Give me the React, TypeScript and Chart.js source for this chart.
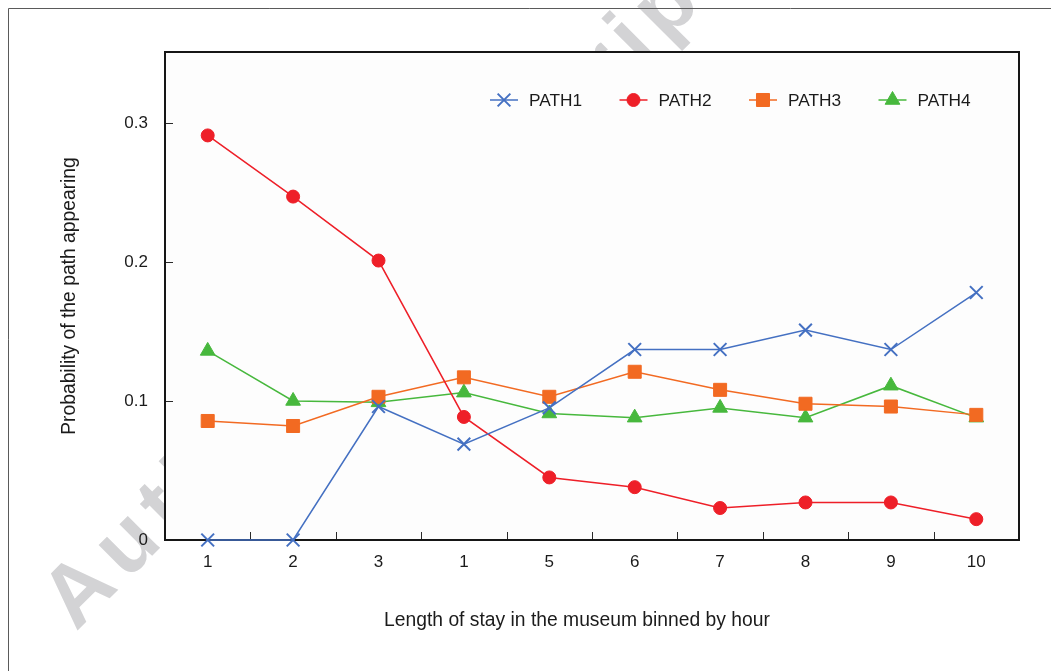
import React, { useEffect, useRef } from 'react';
import { Chart, registerables } from 'chart.js';
import { drawPoint } from 'chart.js/helpers';

Chart.register(...registerables);

const categories = ['1', '2', '3', '1', '5', '6', '7', '8', '9', '10'];
const path1 = [0, 0, 0.096, 0.069, 0.095, 0.137, 0.137, 0.151, 0.137, 0.178];
const path2 = [0.291, 0.247, 0.201, 0.0885, 0.045, 0.038, 0.023, 0.027, 0.027, 0.015];
const path3 = [0.0856, 0.082, 0.103, 0.117, 0.103, 0.121, 0.108, 0.098, 0.096, 0.09];
const path4 = [0.136, 0.1, 0.099, 0.106, 0.091, 0.088, 0.095, 0.088, 0.111, 0.088];
const yTicks = [0, 0.1, 0.2, 0.3];
const seriesNames = ['PATH1', 'PATH2', 'PATH3', 'PATH4'];
const seriesColors = ['#4470C2', '#EE1F28', '#F26A22', '#47B83D'];
const seriesStyles = ['crossRot', 'circle', 'rect', 'triangle'];
const seriesRadii = [9, 6.5, 9.2, 8.5];
const xTitle = 'Length of stay in the museum binned by hour';
const yTitle = 'Probability of the path appearing';
const watermark = 'Author Manuscript';

const FONT = "'Liberation Sans', Arial, Helvetica, sans-serif";
const TEXT = '#1b1b1b';

const decorPlugin = {
  id: 'decor',
  beforeDraw(chart: any) {
    const { ctx, chartArea: a } = chart;
    ctx.save();
    ctx.fillStyle = '#ffffff';
    ctx.fillRect(0, 0, chart.width, chart.height);
    // watermark
    ctx.save();
    ctx.translate(76, 632);
    ctx.rotate((-45 * Math.PI) / 180);
    ctx.font = `bold 86px ${FONT}`;
    try {
      (ctx as any).letterSpacing = '10px';
    } catch (e) {}
    ctx.fillStyle = '#d3d3d5';
    ctx.textBaseline = 'alphabetic';
    ctx.fillText(watermark, 0, 0);
    try {
      (ctx as any).letterSpacing = '0px';
    } catch (e) {}
    ctx.restore();
    // outer frame (top and left)
    ctx.strokeStyle = '#5a5a5a';
    ctx.lineWidth = 1;
    ctx.beginPath();
    ctx.moveTo(8.5, chart.height);
    ctx.lineTo(8.5, 8.5);
    ctx.lineTo(chart.width, 8.5);
    ctx.stroke();
    // plot background
    ctx.fillStyle = '#fdfdfd';
    ctx.fillRect(a.left, a.top, a.right - a.left, a.bottom - a.top);
    ctx.restore();
  },
  beforeDatasetsDraw(chart: any) {
    const { ctx, chartArea: a, scales } = chart;
    const xs = scales.x;
    const ys = scales.y;
    ctx.save();
    ctx.strokeStyle = '#2a2a2a';
    ctx.lineWidth = 1;
    ctx.beginPath();
    for (let i = 0; i < categories.length - 1; i++) {
      const px = Math.round((xs.getPixelForValue(i) + xs.getPixelForValue(i + 1)) / 2) + 0.5;
      ctx.moveTo(px, a.bottom);
      ctx.lineTo(px, a.bottom - 8);
    }
    yTicks.forEach((v) => {
      if (v === 0) return;
      const py = Math.round(ys.getPixelForValue(v)) + 0.5;
      ctx.moveTo(a.left, py);
      ctx.lineTo(a.left + 8, py);
    });
    ctx.stroke();
    ctx.strokeStyle = '#161616';
    ctx.lineWidth = 2;
    ctx.strokeRect(a.left, a.top, a.right - a.left, a.bottom - a.top);
    ctx.restore();
  },
  afterDatasetsDraw(chart: any) {
    const { ctx } = chart;
    ctx.save();
    // legend
    const ly = 100;
    seriesNames.forEach((name, i) => {
      const lx = 490 + i * 129.5;
      const c = seriesColors[i];
      ctx.strokeStyle = c;
      ctx.fillStyle = c;
      ctx.lineWidth = 1.5;
      ctx.beginPath();
      ctx.moveTo(lx, ly);
      ctx.lineTo(lx + 28, ly);
      ctx.stroke();
      ctx.lineWidth = i === 0 ? 2 : 1;
      drawPoint(ctx, { pointStyle: seriesStyles[i] as any, rotation: 0, radius: seriesRadii[i], borderWidth: i === 0 ? 2 : 1 } as any, lx + 14, ly);
      ctx.fillStyle = TEXT;
      ctx.font = `17.3px ${FONT}`;
      ctx.textBaseline = 'middle';
      ctx.textAlign = 'left';
      ctx.fillText(name, lx + 39, ly + 1);
    });
    // x title
    ctx.fillStyle = TEXT;
    ctx.font = `19.3px ${FONT}`;
    ctx.textAlign = 'center';
    ctx.textBaseline = 'middle';
    ctx.fillText(xTitle, 577, 621);
    ctx.restore();
  },
};

export default function App() {
  const ref = useRef<HTMLCanvasElement>(null);
  useEffect(() => {
    const canvas = ref.current!;
    const datasets = [path1, path2, path3, path4].map((d, i) => ({
      label: seriesNames[i],
      data: d,
      borderColor: seriesColors[i],
      backgroundColor: seriesColors[i],
      borderWidth: 1.5,
      pointStyle: seriesStyles[i] as any,
      pointRadius: seriesRadii[i],
      pointBorderWidth: i === 0 ? 2 : 1,
      pointBackgroundColor: seriesColors[i],
      pointBorderColor: seriesColors[i],
      fill: false,
      tension: 0,
      clip: false as any,
    }));
    const chart = new Chart(canvas, {
      type: 'line',
      data: { labels: categories, datasets },
      options: {
        responsive: false,
        animation: false,
        devicePixelRatio: 1,
        layout: { padding: { top: 52, right: 32, left: 0, bottom: 0 } },
        plugins: { legend: { display: false }, tooltip: { enabled: false } },
        scales: {
          x: {
            offset: true,
            grid: { display: false, drawTicks: false },
            border: { display: false },
            ticks: { font: { family: FONT, size: 17 }, color: TEXT, padding: 12, maxRotation: 0, autoSkip: false },
            afterFit: (s: any) => {
              s.height = 131;
            },
          },
          y: {
            min: 0,
            max: 0.351,
            grid: { display: false, drawTicks: false },
            border: { display: false },
            afterBuildTicks: (s: any) => {
              s.ticks = yTicks.map((v) => ({ value: v }));
            },
            ticks: {
              font: { family: FONT, size: 17 },
              color: TEXT,
              padding: 17,
              callback: (v: any) => String(Math.round(Number(v) * 10) / 10),
            },
            title: {
              display: true,
              text: yTitle,
              font: { family: FONT, size: 19.3 },
              color: TEXT,
              padding: { top: 58, bottom: 0 },
            },
            afterFit: (s: any) => {
              s.width = 165;
            },
          },
        },
      },
      plugins: [decorPlugin],
    });
    return () => chart.destroy();
  }, []);
  return (
    <div style={{ position: 'fixed', left: 0, top: 0, width: 1051, height: 671, background: '#fff' }}>
      <canvas ref={ref} width={1051} height={671} style={{ display: 'block', width: 1051, height: 671 }} />
    </div>
  );
}
